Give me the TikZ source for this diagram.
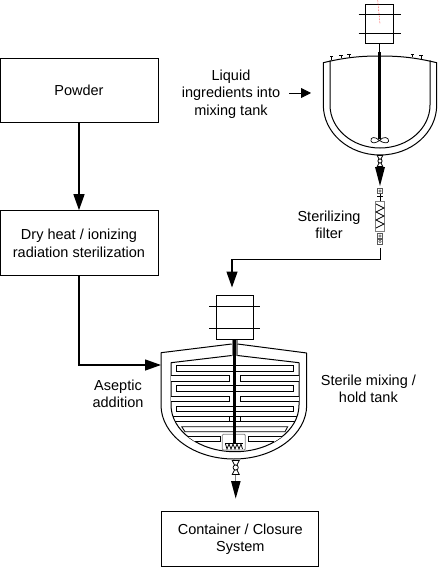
\documentclass[tikz,border=0pt]{standalone}
\usepackage{fontspec}
\setmainfont{Liberation Sans}
\usetikzlibrary{arrows.meta}
\begin{document}
\begin{tikzpicture}[x=1pt, y=-1pt, line width=1pt, font=\fontsize{14.5}{17.5}\selectfont, every node/.style={align=center}]
\tikzset{
  stagebox/.style={draw, line width=1pt, inner sep=0pt},
  flow/.style={line width=1.3pt, -{Triangle[length=16pt, width=11pt]}},
  valve/.pic={
    \draw[line width=.8pt] (-3.5,-7) -- (3.5,7) -- (-3.5,7) -- (3.5,-7) -- cycle;
    \draw[line width=.8pt, fill=white] (0,0) circle (2.6);
  },
  fitting/.pic={
    \draw[black!65, line width=.8pt, fill=white] (-2.4,-2.5) rectangle (2.4,2.5);
    \draw[black!65, line width=.5pt] (0,0) circle (1.3);
  },
  baffle/.style={draw, line width=.8pt, fill=white}
}
\useasboundingbox (0,0) rectangle (437,567);

% process boxes
\node[stagebox, minimum width=158pt, minimum height=63.5pt] (powder) at (79,90.5) {Powder};
\node[stagebox, minimum width=158pt, minimum height=65pt] (dryheat) at (79,243.2) {Dry heat / ionizing\\radiation sterilization};
\node[stagebox, minimum width=157pt, minimum height=55pt] (closure) at (240.3,539.2) {Container / Closure\\System};

% labels
\node (liquid) at (231,94) {Liquid\\ingredients into\\mixing tank};
\node (filterlabel) at (329,225) {Sterilizing\\filter};
\node (aseptic) at (118,394) {Aseptic\\addition};
\node (holdlabel) at (368.4,389) {Sterile mixing /\\hold tank};

% motors
\foreach \x/\y/\w/\h/\a/\b/\s in {379.5/24.2/14.3/19.5/-9.7/9.5/21, 234.7/317.3/18.3/22.3/-11.3/11/25.5} {
  \draw (\x-\w,\y-\h) rectangle (\x+\w,\y+\h);
  \draw (\x-\s,\y+\a) -- (\x+\s,\y+\a);
  \draw (\x-\s,\y+\b) -- (\x+\s,\y+\b);
}

% upper mixing tank
\draw[red, densely dotted, line width=.5pt] (377.7,0) -- (380,24);
\draw (379.5,44) -- (379.5,52);
\draw (323.3,62.7) .. controls (345,57.5) and (360,56) .. (379.5,56) .. controls (400,56) and (415,57.5) .. (436.7,62.7)
  -- (436.7,105) arc[start angle=0, end angle=180, x radius=56.7, y radius=50] -- cycle;
\draw (330,60.5) -- (330,105) arc[start angle=180, end angle=0, x radius=50, y radius=43] -- (430,60.5);
\foreach \x/\y in {331.7/60,341/58.5,349/57.5,412.3/57.5,421/59} {
  \draw[line width=.8pt] (\x,\y) -- (\x,\y-3.5);
  \draw[line width=.8pt] (\x-1.7,\y-3.5) -- (\x+1.7,\y-3.5);
}
\draw[line width=3pt] (379.5,52) -- (379.5,139);
\draw[line width=.7pt, fill=white] (379.5,140.5) .. controls (375,136) and (370,137) .. (371,141) .. controls (372,144) and (376,143) .. (379.5,140.5)
  .. controls (383,136) and (389,137) .. (388.7,141) .. controls (388,144) and (383,143) .. (379.5,140.5);

% feed line and filter
\pic[scale=.8] at (380,161) {valve};
\fill (375,167) -- (385,167) -- (380,186) -- cycle;
\pic at (380,191) {fitting};
\draw[line width=.7pt] (380,193.5) -- (380,201.5);
\draw[line width=.7pt] (377,196.7) -- (383,196.7);
\draw[gray, line width=1pt, fill=white] (375.7,201.7) rectangle (384.3,231.7);
\draw[line width=.7pt] (376,204) -- (384,208) -- (376,212) -- (384,216) -- (376,220) -- (384,224) -- (376,228);
\pic at (380,236) {fitting};
\pic at (380,241.5) {fitting};

% lower mixing tank
\fill[gray] (231.7,340) rectangle (237.5,355.5);
\draw (161,352.7) -- (231.7,344) (237.5,344) -- (306.7,353);
\draw (161,352.7) -- (161,405) arc[start angle=180, end angle=0, x radius=72.85, y radius=54] -- (306.7,353);
\draw (171,362.7) -- (231.7,355.5) (237.5,355.5) -- (299,362.7);
\draw (171,362.7) -- (171,405) arc[start angle=180, end angle=0, x radius=64, y radius=46.7] -- (299,362.7);
\foreach \y in {365.7,385.7,406}
  \draw[baffle] (176,\y) rectangle (293.3,\y+5.2);
\foreach \y in {375.7,396} {
  \draw[baffle] (171,\y) -- (229.3,\y) -- (229.3,\y+5.2) -- (171,\y+5.2);
  \draw[baffle] (299,\y) -- (240,\y) -- (240,\y+5.2) -- (299,\y+5.2);
}
\draw[line width=.8pt] (172.7,416.7) -- (297.2,416.7) (174.8,421.3) -- (295,421.3);
\draw[baffle] (229.3,416.7) rectangle (240.7,421.3);
\draw[baffle] (181.7,426.7) -- (287.7,426.7) -- (285,431.7) -- (185,431.7) -- cycle;
\draw[baffle] (188,436.7) -- (220.7,436.7) -- (220.7,441.7) -- (195.4,441.7);
\draw[baffle] (282,436.7) -- (248.3,436.7) -- (248.3,441.7) -- (274.4,441.7);
\draw[gray, line width=.8pt, fill=white, rounded corners=1pt] (222.3,434.3) rectangle (245.3,450);
\draw[line width=2.8pt] (234.3,340) -- (234.3,443.5);
\draw[line width=1pt] (225,443.5) -- (243,443.5);
\draw[line width=.8pt] (225.5,444) -- (227,449) -- (229,444) -- (231,449) -- (233,444) -- (235,449) -- (237,444) -- (239,449) -- (241,444) -- (242.5,449);
\pic at (235.7,467.5) {valve};
\draw[gray, line width=.5pt] (235.7,475) -- (235.7,481);
\fill (231,481) -- (240.7,481) -- (235.7,498.5) -- cycle;

% connectors
\coordinate (filterout) at (380.7,248);
\coordinate (motorin) at (232,287.5);
\coordinate (tankin) at (161,365);
\coordinate (tankout) at (311,93);
\coordinate (liquidout) at (289,93);
\draw[flow] (powder) -- (dryheat);
\draw[flow] (dryheat) |- (tankin);
\draw[flow] (filterout) |- (232,259.5) -- (motorin);
\draw[line width=.8pt, -{Triangle[length=10pt, width=10pt]}] (liquidout) -- (tankout);
\end{tikzpicture}
\end{document}
